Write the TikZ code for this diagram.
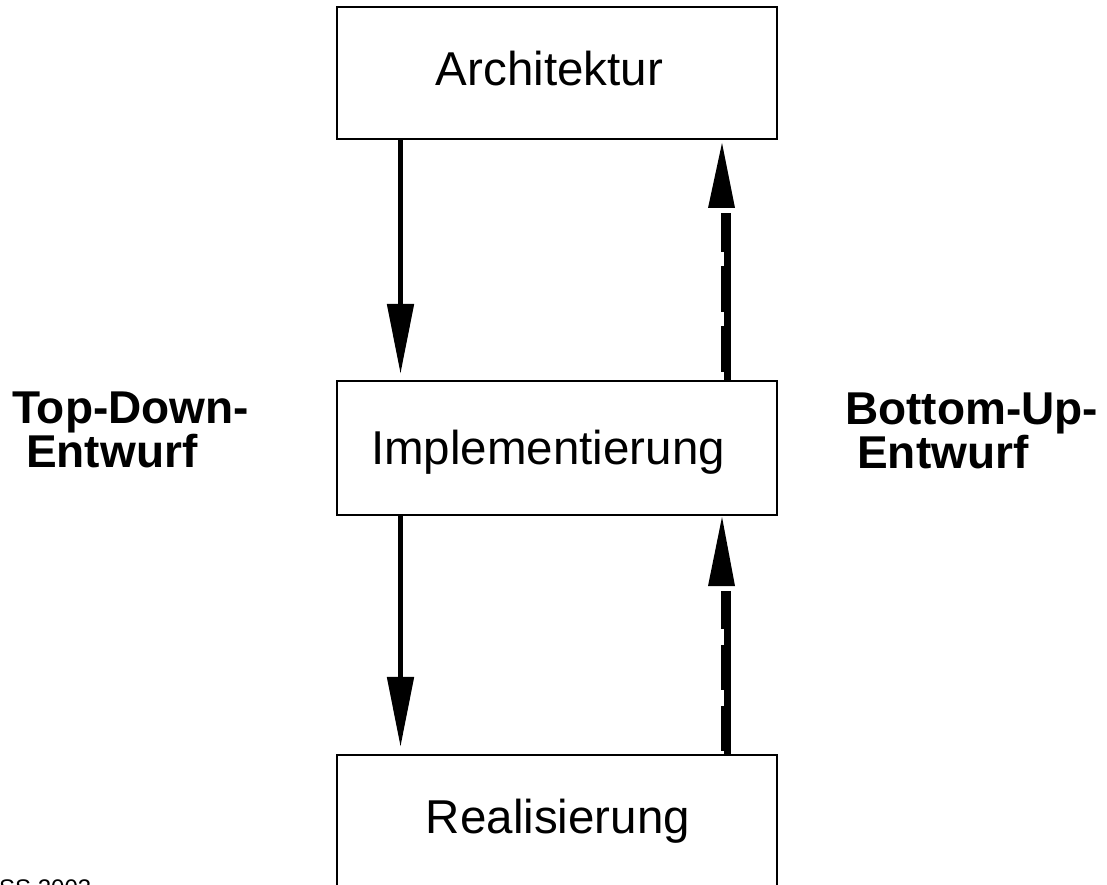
\documentclass[tikz,border=0pt]{standalone}
\usepackage{fontspec}
\setmainfont{Liberation Sans}
\usetikzlibrary{arrows.meta}
\begin{document}
\begin{tikzpicture}[x=1pt,y=-1pt,
  box/.style={draw=black,line width=2.2pt,minimum width=440pt,inner sep=0pt},
  boxtext/.style={anchor=base,inner sep=0pt,font=\fontsize{47.5}{56}\selectfont},
  sidetext/.style={anchor=base west,inner sep=0pt,align=left,font=\bfseries\fontsize{46}{40}\selectfont},
  downarrow/.style={line width=5pt,-{Triangle[length=70pt,width=26pt]}},
  upsolid/.style={line width=7pt},
  updash/.style={line width=10pt,dash pattern=on 46pt off 14pt},
  uphead/.style={fill=black}
]
\useasboundingbox (0,0) rectangle (1107,885);
\clip (0,0) rectangle (1107,885);

% boxes
\node[box,minimum height=132pt] (arch) at (557,73) {};
\node[box,minimum height=134pt] (impl) at (557,448) {};
\node[box,minimum height=134pt] (real) at (557,822) {};

% box texts
\node[boxtext] (tarch) at (549.5,86) {Architektur};
\node[boxtext] (timpl) at (548,464) {Implementierung};
\node[boxtext] (treal) at (558,833) {Realisierung};

% side labels
\node[sidetext] (td) at (12,467) {Top-Down-\\\hspace*{14pt}Entwurf};
\node[sidetext] (bu) at (845,468) {Bottom-Up-\\\hspace*{12pt}Entwurf};

% footer
\node[anchor=base west,inner sep=0pt,font=\fontsize{24}{28}\selectfont] (ss) at (-1,896) {SS 2003};

% down arrows
\coordinate (dx) at (400.5,0);
\draw[downarrow,shorten >=6pt] (arch.south -| dx) -- (impl.north -| dx);
\draw[downarrow,shorten >=7pt] (impl.south -| dx) -- (real.north -| dx);

% up arrows
\coordinate (us) at (727.5,0);
\coordinate (ud) at (726,0);
\coordinate (ub1) at (727.5,213);
\coordinate (ub2) at (727.5,591);
\draw[upsolid] (impl.north -| us) -- (ub1);
\draw[updash,dash phase=52pt] (impl.north -| ud) -- (ub1 -| ud);
\draw[upsolid] (real.north -| us) -- (ub2);
\draw[updash,dash pattern=on 45pt off 16pt,dash phase=58pt] (real.north -| ud) -- (ub2 -| ud);

\coordinate (ut1) at (722,143);
\coordinate (ut2) at (722,517);
\fill[uphead] (ut1) -- (735,208) -- (708,208) -- cycle;
\fill[uphead] (ut2) -- (735,586) -- (708,586) -- cycle;
\end{tikzpicture}
\end{document}
